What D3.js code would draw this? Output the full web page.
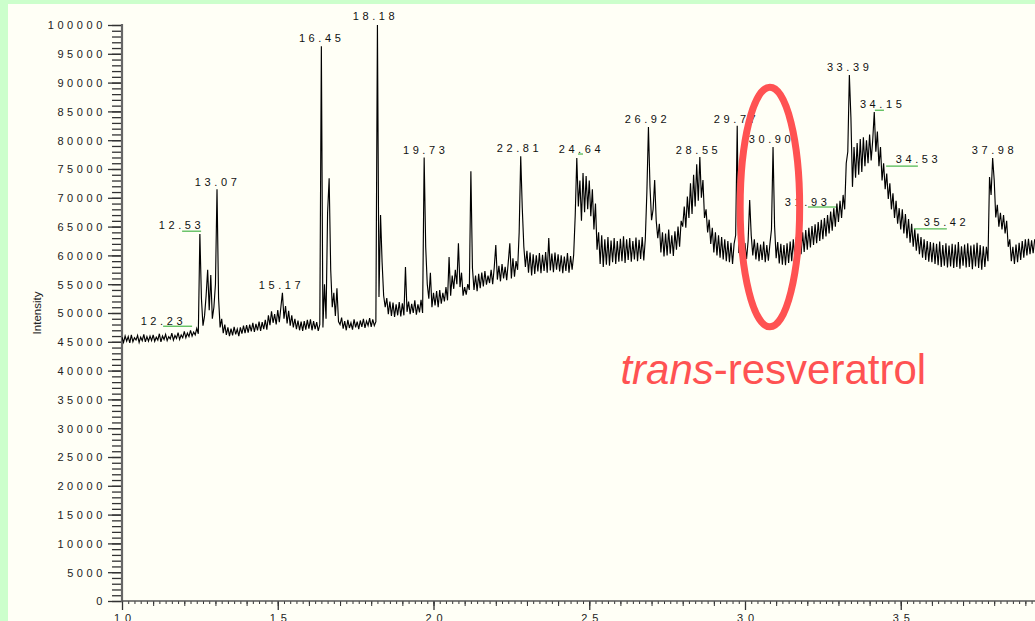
<!DOCTYPE html>
<html>
<head>
<meta charset="utf-8">
<script src="https://cdn.jsdelivr.net/npm/d3@7"></script>
<style>
  html, body { margin: 0; padding: 0; background: #ccffcc; }
  svg { display: block; }
  text { font-family: Arial, "Liberation Sans", sans-serif; }
</style>
</head>
<body>
<svg id="chart" width="1035" height="621"></svg>
<script>
// ---------- DATA ----------
// Chromatogram trace, intensity in thousands of counts, sampled every 0.05 min from 10.00 min
const traceStart = 10.0;
const traceStep = 0.05;
const traceK = [
  45.8,44.9,46.0,45.1,45.9,44.8,46.2,45.0,45.7,45.3,46.1,44.9,45.8,45.2,46.3,45.0,45.9,45.1,46.0,45.2,
  46.2,45.1,45.8,45.3,46.4,45.0,46.0,45.4,46.3,45.2,45.9,45.5,46.5,45.3,46.1,45.6,46.6,45.4,46.2,45.7,
  46.8,45.7,46.5,45.9,47.0,46.0,46.7,46.2,47.3,46.4,63.7,52.5,47.8,49.5,53.0,57.5,50.5,56.6,49.0,51.0,
  55.0,71.5,52.6,47.5,49.0,46.5,48.0,46.2,47.5,46.0,47.3,46.1,47.6,46.3,47.2,46.0,47.5,46.4,47.8,46.5,
  47.9,46.6,48.0,46.8,48.3,46.7,48.1,47.0,48.5,46.9,48.4,47.2,48.8,47.1,49.6,47.9,50.3,48.3,49.8,48.0,
  50.5,48.4,51.0,53.5,49.0,51.2,48.2,50.4,47.8,49.6,47.5,49.0,47.2,48.7,47.0,48.5,46.9,48.6,47.1,48.8,
  47.3,48.9,47.0,48.6,47.2,48.4,46.9,48.0,96.3,47.5,55.0,49.0,67.4,73.4,57.5,51.0,53.5,49.5,54.3,48.5,
  48.0,49.2,47.3,48.6,47.0,48.8,47.4,48.3,47.1,48.9,47.5,48.5,47.2,48.7,47.6,49.0,47.4,48.6,47.8,49.1,
  47.6,48.9,47.8,48.5,100.0,52.8,67.0,58.8,53.0,51.0,52.6,49.8,52.0,49.5,51.8,49.3,51.5,49.6,51.9,49.4,
  51.7,49.6,58.0,50.2,52.0,49.8,51.6,50.0,52.2,49.7,51.5,50.1,52.3,50.0,77.0,61.4,55.0,52.5,57.0,51.0,
  53.5,51.3,53.8,51.0,54.0,51.6,53.5,52.0,54.5,52.2,59.7,53.0,56.5,54.2,57.5,55.0,62.1,54.5,57.0,53.0,
  54.5,53.2,55.0,54.0,74.6,57.8,54.0,56.5,53.8,56.8,54.3,57.0,54.6,57.3,54.9,56.5,55.2,57.5,55.0,57.9,
  61.8,55.8,58.2,55.5,58.5,56.0,58.0,55.7,58.8,62.1,56.0,59.5,56.3,59.0,57.5,64.0,77.2,68.2,61.5,58.0,
  60.8,57.0,60.5,56.5,60.2,56.8,60.0,57.2,60.4,56.9,60.1,57.3,60.6,57.0,63.0,57.4,60.3,57.1,60.5,57.5,
  60.2,57.2,60.0,56.9,59.8,57.3,60.4,57.0,59.9,57.5,60.1,67.0,76.9,68.5,73.0,66.0,74.3,67.5,73.8,68.0,
  73.0,66.8,71.5,64.5,69.0,61.0,64.0,58.5,63.5,58.0,62.8,58.4,63.2,58.2,62.6,58.8,63.0,58.5,62.5,58.9,
  62.9,59.0,63.3,58.7,62.8,59.2,63.0,58.9,62.5,59.3,63.1,59.0,62.7,59.4,63.2,59.1,62.9,71.0,82.3,71.9,
  66.1,68.0,73.1,66.0,63.0,65.5,60.5,64.0,59.8,63.8,60.0,64.5,60.3,63.5,59.9,64.2,61.0,65.0,61.5,66.0,
  65.0,68.5,64.8,70.2,66.5,72.5,67.2,74.0,68.5,75.8,69.5,77.1,70.0,73.1,66.5,68.0,64.0,66.2,62.0,64.8,
  60.5,64.0,60.0,63.5,59.6,63.2,59.3,62.8,59.0,62.5,58.8,62.2,58.5,62.0,63.5,82.5,60.4,62.0,59.5,61.8,
  62.0,59.4,62.5,69.6,63.5,60.0,62.8,59.3,62.2,59.0,61.9,59.2,62.4,58.8,61.8,59.1,62.0,64.5,78.8,65.0,
  59.5,62.3,58.6,62.0,58.4,61.8,58.3,62.1,58.7,62.4,59.0,62.8,59.4,63.2,59.8,63.6,60.2,64.0,60.6,64.4,
  61.0,64.8,61.4,65.1,61.8,65.4,62.1,65.8,62.5,66.2,62.8,66.5,63.3,67.0,63.8,67.6,64.3,68.2,65.0,69.0,
  65.8,69.5,66.5,70.5,68.0,76.0,78.0,91.3,84.0,71.9,78.8,73.5,79.5,74.0,80.2,74.5,80.5,75.5,80.0,76.0,
  81.0,76.5,80.0,84.9,78.0,81.5,75.5,78.8,73.0,76.0,71.5,74.2,69.8,72.5,68.0,70.8,66.5,69.5,65.5,68.2,
  64.5,68.0,63.8,67.2,63.0,66.3,62.2,65.5,61.5,64.6,60.8,63.8,60.2,63.2,59.6,62.8,59.2,62.5,58.9,62.3,
  58.8,62.2,58.5,62.0,58.3,62.4,58.0,61.8,58.2,62.1,57.9,61.7,58.1,62.0,57.8,61.9,58.0,62.3,57.7,61.6,
  58.2,61.9,57.9,62.1,58.0,61.7,57.6,61.9,58.1,62.2,57.8,61.8,57.5,61.6,58.0,61.5,59.0,73.6,70.5,76.9,
  73.1,66.6,68.8,65.0,67.4,64.5,67.0,63.8,66.0,61.5,62.8,59.0,61.5,58.5,61.9,58.8,62.2,59.2,62.5,59.6,
  62.8,60.0,62.9,60.2,62.6,60.4,62.8
];

// Peak labels: text, label centre time (min), label baseline intensity (thousands)
const peakNames  = ["12.23","12.53","13.07","15.17","16.45","18.18","19.73","22.81","24.64","26.92",
                    "28.55","29.77","30.90","31.93","33.39","34.15","34.53","35.42","37.98"];
const peakLabelT = [11.33,11.91,13.07,15.12,16.41,18.14,19.75,22.76,24.75,26.87,
                    28.51,29.73,30.85,32.01,33.36,34.42,35.57,36.47,38.01];
const peakLabelK = [47.9,64.6,72.0,54.2,97.0,100.9,77.6,77.9,77.8,83.0,
                    77.6,83.0,79.5,68.6,92.0,85.6,76.0,65.1,77.6];

// Integration baseline markers (green): start time, end time, intensity (thousands)
const markStart = [11.32,11.93,24.64,32.02,34.17,34.53,35.42];
const markEnd   = [12.25,12.54,24.80,32.92,34.46,35.55,36.48];
const markK     = [47.7,64.2,77.6,68.4,85.2,75.5,64.6];

// Axis ticks
const yTickValues = d3.range(0, 100001, 5000);
const xTickValues = [10, 15, 20, 25, 30, 35];

// Annotation (highlighted compound)
const annotCentreT = 30.80, annotCentreK = 68.4, annotRadiusT = 0.955, annotRadiusK = 20.8;
const annotLabelItalic = "trans", annotLabelRest = "-resveratrol";
const annotLabelT = 26.0, annotLabelK = 37.6;

// ---------- CHART ----------
const svg = d3.select("#chart");
const W = 1035, H = 621;

// cream panel
svg.append("rect").attr("x", 8).attr("y", 4).attr("width", W - 8).attr("height", H - 4).attr("fill", "#fffff6");

const x = d3.scaleLinear().domain([10, 40]).range([122, 122 + 30 * 31.15]);
const y = d3.scaleLinear().domain([0, 100000]).range([601, 25]);

svg.append("defs").append("clipPath").attr("id", "plotclip")
  .append("rect").attr("x", 122).attr("y", 0).attr("width", W - 122).attr("height", 601);

const trace = traceK.map((v, i) => ({ t: traceStart + i * traceStep, v: v * 1000 }));

// y axis
const yAxis = d3.axisLeft(y).tickValues(yTickValues).tickSize(14).tickFormat(d3.format("d"));
const gy = svg.append("g").attr("transform", "translate(122,0)").call(yAxis);
gy.select(".domain").remove();
gy.selectAll(".tick line").attr("stroke", "#333").attr("stroke-width", 1.3);
gy.selectAll(".tick text").attr("font-size", 11).attr("fill", "#222")
  .attr("x", -16).attr("letter-spacing", "3.6px").attr("dy", "0.36em");
const yMinor = d3.axisLeft(y).tickValues(d3.range(0, 100001, 1000)).tickSize(10).tickFormat("");
const gym = svg.append("g").attr("transform", "translate(122,0)").call(yMinor);
gym.select(".domain").remove();
gym.selectAll(".tick line").attr("stroke", "#333").attr("stroke-width", 1.3);
svg.append("line").attr("x1", 122).attr("x2", 122).attr("y1", y(100000) - 1).attr("y2", 602)
  .attr("stroke", "#666").attr("stroke-width", 2.2);

// x axis
const xMinor = d3.axisBottom(x).tickValues(d3.range(10, 40.01, 0.2)).tickSize(3).tickFormat("");
const gxm = svg.append("g").attr("transform", "translate(0,601)").call(xMinor);
gxm.select(".domain").remove();
gxm.selectAll(".tick line").attr("stroke", "#333");
const xMid = d3.axisBottom(x).tickValues(d3.range(10, 40.01, 1)).tickSize(5).tickFormat("");
const gxmid = svg.append("g").attr("transform", "translate(0,601)").call(xMid);
gxmid.select(".domain").remove();
gxmid.selectAll(".tick line").attr("stroke", "#333");
const xAxis = d3.axisBottom(x).tickValues(xTickValues).tickSize(9).tickFormat(d3.format("d"));
const gx = svg.append("g").attr("transform", "translate(0,601)").call(xAxis);
gx.select(".domain").remove();
gx.selectAll(".tick line").attr("stroke", "#333").attr("stroke-width", 1.3);
gx.selectAll(".tick text").attr("font-size", 11).attr("fill", "#222")
  .attr("letter-spacing", "5px").attr("dx", "2.5px").attr("y", 13).attr("dy", "0.71em");
svg.append("line").attr("x1", 122).attr("x2", W).attr("y1", 601).attr("y2", 601)
  .attr("stroke", "#555").attr("stroke-width", 1.3);

// y label
svg.append("text").attr("transform", "translate(41,313) rotate(-90)")
  .attr("text-anchor", "middle").attr("font-size", 11.5).attr("fill", "#222").text("Intensity");

// trace
const line = d3.line().x(d => x(d.t)).y(d => y(d.v));
svg.append("path").datum(trace).attr("clip-path", "url(#plotclip)")
  .attr("d", line).attr("fill", "none").attr("stroke", "#000").attr("stroke-width", 1.15)
  .attr("stroke-linejoin", "miter");

// green integration markers
svg.append("g").selectAll("line").data(markStart.map((s, i) => ({ s, e: markEnd[i], k: markK[i] })))
  .join("line")
  .attr("x1", d => x(d.s)).attr("x2", d => x(d.e))
  .attr("y1", d => y(d.k * 1000)).attr("y2", d => y(d.k * 1000))
  .attr("stroke", "#55bb55").attr("stroke-width", 1.3);

// peak labels
svg.append("g").selectAll("text").data(peakNames.map((n, i) => ({ n, t: peakLabelT[i], k: peakLabelK[i] })))
  .join("text")
  .attr("x", d => x(d.t)).attr("y", d => y(d.k * 1000))
  .attr("text-anchor", "middle").attr("font-size", 11).attr("letter-spacing", "3.6px")
  .attr("fill", "#111").text(d => d.n);

// annotation ellipse
svg.append("ellipse")
  .attr("cx", x(annotCentreT)).attr("cy", y(annotCentreK * 1000))
  .attr("rx", x(annotCentreT + annotRadiusT) - x(annotCentreT))
  .attr("ry", y(annotCentreK * 1000 - annotRadiusK * 1000) - y(annotCentreK * 1000))
  .attr("fill", "none").attr("stroke", "#ff5252").attr("stroke-width", 7);

const at = svg.append("text").attr("x", x(annotLabelT)).attr("y", y(annotLabelK * 1000))
  .attr("font-size", 42).attr("fill", "#ff5252");
at.append("tspan").attr("font-style", "italic").text(annotLabelItalic);
at.append("tspan").text(annotLabelRest);
</script>
</body>
</html>
